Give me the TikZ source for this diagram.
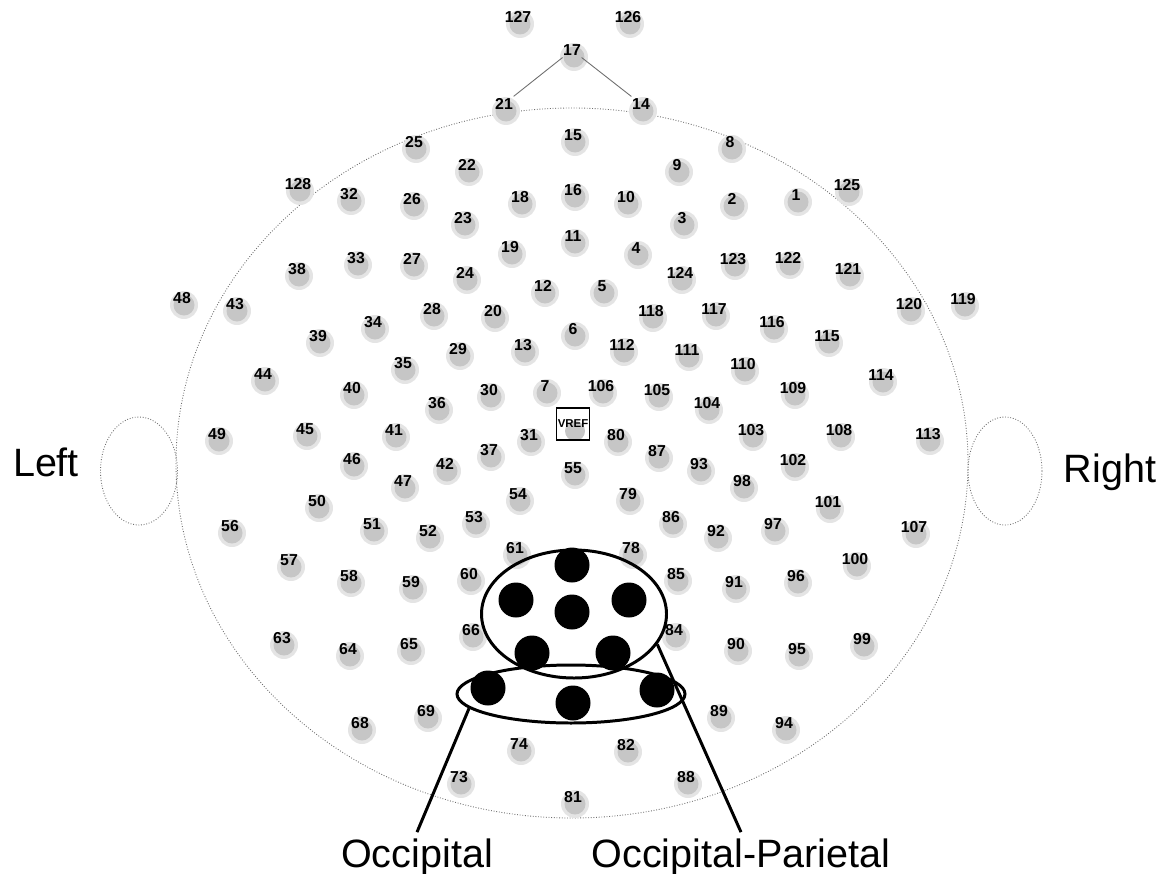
\documentclass[tikz,border=0pt]{standalone}
\usepackage{fontspec}
\setmainfont{Liberation Sans}
\usepackage{tikz}
\usetikzlibrary{shapes.geometric, positioning, calc}
\definecolor{scalpgray}{RGB}{110,110,110}
\definecolor{padgray}{RGB}{198,198,198}
\definecolor{padlight}{RGB}{228,228,228}
\tikzset{
  head/.style={draw=scalpgray, densely dotted, line width=0.5pt},
  nose/.style={draw=scalpgray, line width=0.5pt},
  num/.style={font=\fontsize{9}{10}\selectfont\bfseries, inner sep=1pt},
  ref/.style={rectangle, draw, line width=0.6pt, minimum width=6.6mm, minimum height=6.4mm,
    inner sep=0pt, font=\fontsize{6.5}{7}\selectfont\bfseries},
  hot/.style={circle, fill=black, minimum size=7mm, inner sep=0pt},
  grp/.style={ellipse, draw, line width=1.7pt, inner sep=0pt},
  lead/.style={line width=1.7pt},
  side/.style={font=\fontsize{22.5}{25}\selectfont}
}
\begin{document}
\begin{tikzpicture}[x=0.2mm, y=-0.2mm]
  \useasboundingbox (0,0) rectangle (1171,873);
  \draw[head] (572,463) ellipse [x radius=7.92cm, y radius=7.1cm];
  \draw[head] (139,471) ellipse [x radius=0.77cm, y radius=1.08cm];
  \draw[head] (1005,471) ellipse [x radius=0.74cm, y radius=1.08cm];
  \foreach \n/\x/\y in {1/796/195, 2/732/199, 3/682/218, 4/636/248, 5/602/286, 6/573/329,
      7/545/386, 8/730/142, 9/677/165, 10/626/197, 11/573/236, 12/543/286, 13/523/345,
      14/641/104, 15/573/135, 16/573/190, 17/572/50, 18/520/197, 19/510/247, 20/493/311,
      21/504/104, 22/467/165, 23/463/218, 24/465/273, 25/414/142, 26/412/199, 27/412/259,
      28/432/309, 29/458/349, 30/489/390, 31/529/435, 32/349/194, 33/356/258, 34/373/322,
      35/403/363, 36/437/403, 37/489/450, 38/297/269, 39/318/336, 40/352/388, 41/394/430,
      42/445/464, 43/235/304, 44/263/374, 45/305/429, 46/352/459, 47/403/481, 48/182/298,
      49/217/434, 50/317/501, 51/372/524, 52/428/531, 53/474/517, 54/518/494, 55/573/468,
      56/230/526, 57/289/560, 58/349/576, 59/411/582, 60/469/574, 61/515/548, 63/282/638,
      64/348/649, 65/409/644, 66/471/630, 68/360/723, 69/426/711, 73/459/777, 74/519/744,
      78/631/548, 79/628/494, 80/616/435, 81/573/797, 82/626/745, 84/674/630, 85/676/574,
      86/671/517, 87/657/451, 88/686/777, 89/719/711, 90/736/644, 91/734/582, 92/716/531,
      93/699/464, 94/784/723, 95/797/649, 96/796/576, 97/773/524, 98/742/481, 99/862/639,
      100/855/559, 101/828/502, 102/793/460, 103/751/430, 104/707/403, 105/657/390,
      106/601/386, 107/914/527, 108/839/430, 109/793/388, 110/743/364, 111/687/350,
      112/622/345, 113/928/434, 114/881/375, 115/827/336, 116/772/322, 117/714/309,
      118/651/311, 119/963/299, 120/909/304, 121/848/269, 122/788/258, 123/733/259,
      124/680/273, 125/847/185, 126/628/17, 127/518/17, 128/298/184} {
    \fill[padlight] (\x+2,\y+7) circle (0.28cm);
    \fill[padgray] (\x+2,\y+7) circle (0.21cm);
    \node[num] (e\n) at (\x,\y) {\n};
  }
  \draw[nose] (e21) -- (e17) -- (e14);
  \fill[padgray] (575,431) circle (0.2cm);
  \node[ref] (vref) at (573,424) {VREF};
  \foreach \n/\x/\y in {62/572/565, 67/516/600, 72/572/612, 77/629/600, 71/532/653,
      76/613/653, 70/488/688, 75/573/703, 83/657/690}
    \node[hot] (e\n) at (\x,\y) {};
  \node[grp, minimum width=3.7cm, minimum height=2.56cm] (opar) at (574,614) {};
  \node[grp, minimum width=4.56cm, minimum height=1.16cm] (occ) at (571,694) {};
  \node[side, anchor=base] (occlbl) at (417,867) {Occipital};
  \node[side, anchor=base] (oplbl) at (741,867) {Occipital-Parietal};
  \node[side, anchor=base] (lft) at (46,476) {Left};
  \node[side, anchor=base] (rgt) at (1110,482) {Right};
  \draw[lead] (occ.-172) -- (occlbl.north);
  \draw[lead] (opar.-20) -- (oplbl.north);
\end{tikzpicture}
\end{document}
